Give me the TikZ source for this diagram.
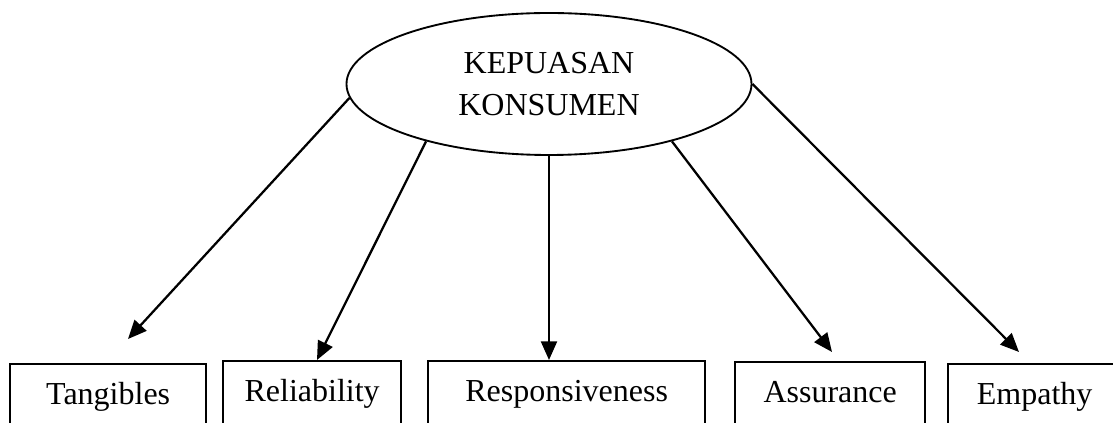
\documentclass[tikz,border=0pt]{standalone}
\usepackage{fontspec}
\setmainfont{Liberation Serif}
\usetikzlibrary{arrows.meta,shapes.geometric}
\begin{document}
\begin{tikzpicture}[x=0.75pt,y=-0.75pt,
  every node/.style={font=\fontsize{24}{31.5}\selectfont},
  factor/.style={draw, line width=1.7pt, rectangle, anchor=north west,
    minimum height=60pt, text height=0pt, text depth=0pt, inner sep=0pt},
  conn/.style={line width=1.7pt, -{Triangle[length=14pt,width=12pt]}}]
\path[use as bounding box, clip] (0,0) rectangle (1113,423);

\node[draw, ellipse, line width=1.4pt, inner sep=0pt, align=center,
  minimum width=405*0.75pt, minimum height=142*0.75pt] (kep) at (549,84) {KEPUASAN\\KONSUMEN};

\node[factor, minimum width=196*0.75pt] (tan) at (9,363) {Tangibles};
\node[factor, minimum width=178*0.75pt] (rel) at (222,360) {Reliability};
\node[factor, minimum width=277*0.75pt] (res) at (427,360) {Responsiveness};
\node[factor, minimum width=190*0.75pt] (ass) at (734,361) {Assurance};
\node[factor, minimum width=173*0.75pt] (emp) at (947,363) {Empathy};

\coordinate (tA) at (128,339);
\coordinate (tB) at (317,360);
\coordinate (tC) at (549,360);
\coordinate (tD) at (832,352);
\coordinate (tE) at (1019,352);

\draw[conn] (kep.184) -- (tA);
\draw[conn] (kep.205) -- (tB);
\draw[conn] (kep.270) -- (tC);
\draw[conn] (kep.335) -- (tD);
\draw[conn] (kep.0) -- (tE);
\end{tikzpicture}
\end{document}
